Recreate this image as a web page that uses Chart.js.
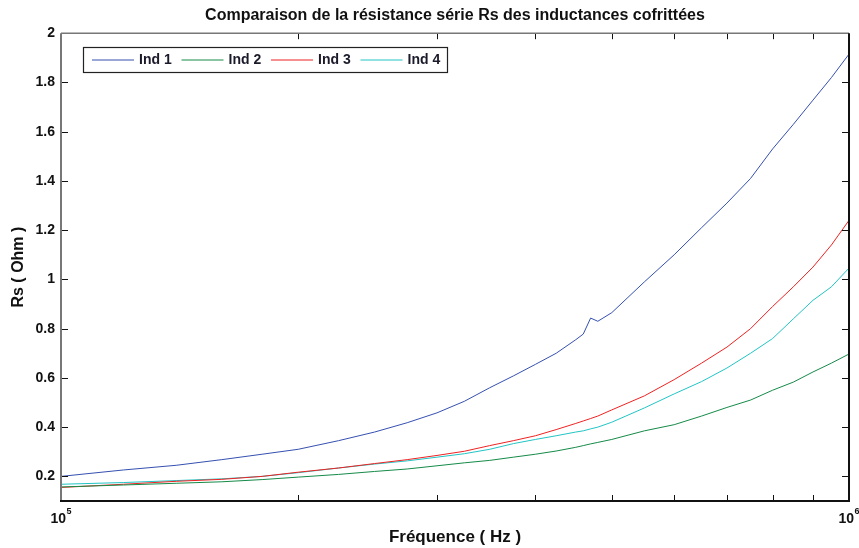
<!DOCTYPE html>
<html>
<head>
<meta charset="utf-8">
<script src="https://cdn.jsdelivr.net/npm/chart.js@4/dist/chart.umd.min.js"></script>
<style>
  body { margin: 0; background: #fff; }
  canvas { display: block; }
</style>
</head>
<body>
<canvas id="rsCanvas" width="859" height="548"></canvas>
<script>
// frequency points (Hz) and series resistance Rs (Ohm)
const freq = [100e3, 120e3, 140e3, 160e3, 180e3, 200e3, 225e3, 250e3, 275e3, 300e3,
  325e3, 350e3, 375e3, 400e3, 425e3, 450e3, 460e3, 470e3, 480e3, 500e3,
  550e3, 600e3, 650e3, 700e3, 750e3, 800e3, 850e3, 900e3, 950e3, 1000e3];
const ind1 = [0.200, 0.226, 0.245, 0.268, 0.290, 0.310, 0.345, 0.380, 0.418, 0.458,
  0.505, 0.560, 0.608, 0.655, 0.700, 0.755, 0.778, 0.843, 0.830, 0.865,
  0.990, 1.100, 1.210, 1.310, 1.410, 1.530, 1.630, 1.728, 1.820, 1.915];
const ind2 = [0.157, 0.165, 0.172, 0.178, 0.187, 0.197, 0.208, 0.220, 0.230, 0.243,
  0.255, 0.265, 0.278, 0.290, 0.303, 0.318, 0.325, 0.332, 0.338, 0.350,
  0.385, 0.410, 0.445, 0.480, 0.510, 0.550, 0.583, 0.624, 0.660, 0.697];
const ind3 = [0.155, 0.168, 0.180, 0.188, 0.200, 0.217, 0.234, 0.252, 0.268, 0.285,
  0.302, 0.325, 0.345, 0.365, 0.390, 0.415, 0.425, 0.435, 0.445, 0.470,
  0.527, 0.593, 0.660, 0.725, 0.800, 0.890, 0.970, 1.050, 1.140, 1.240];
const ind4 = [0.168, 0.175, 0.183, 0.190, 0.200, 0.215, 0.234, 0.250, 0.263, 0.278,
  0.292, 0.310, 0.333, 0.350, 0.365, 0.380, 0.385, 0.393, 0.400, 0.420,
  0.478, 0.535, 0.585, 0.640, 0.700, 0.760, 0.840, 0.915, 0.970, 1.046];
const seriesNames = ['Ind 1', 'Ind 2', 'Ind 3', 'Ind 4'];
const seriesColors = ['#3550b0', '#158a48', '#ee2222', '#22c4c4'];
const yTicks = [0.2, 0.4, 0.6, 0.8, 1, 1.2, 1.4, 1.6, 1.8, 2];
const xMinorTicks = [2e5, 3e5, 4e5, 5e5, 6e5, 7e5, 8e5, 9e5];
const xDecades = [1e5, 1e6];

const FONT = "'Liberation Sans', Arial, sans-serif";

function toPoints(vals) {
  return freq.map((f, i) => ({ x: f, y: vals[i] }));
}

// MATLAB-like frame: box, inward ticks, 10^n labels, boxed legend
const matlabFrame = {
  id: 'matlabFrame',
  afterDraw: (chart) => {
    const ctx = chart.ctx;
    const a = chart.chartArea;
    const xs = chart.scales.x;
    const ys = chart.scales.y;
    ctx.save();

    // inward tick marks
    ctx.strokeStyle = '#111';
    ctx.lineWidth = 1;
    ctx.beginPath();
    xMinorTicks.forEach((v) => {
      const px = Math.round(xs.getPixelForValue(v)) + 0.5;
      ctx.moveTo(px, a.bottom); ctx.lineTo(px, a.bottom - 6);
      ctx.moveTo(px, a.top); ctx.lineTo(px, a.top + 6);
    });
    yTicks.forEach((v) => {
      if (v >= 2) return;
      const py = Math.round(ys.getPixelForValue(v)) + 0.5;
      ctx.moveTo(a.left, py); ctx.lineTo(a.left + 7, py);
      ctx.moveTo(a.right, py); ctx.lineTo(a.right - 7, py);
    });
    ctx.stroke();

    // axes box
    ctx.lineWidth = 1.5;
    ctx.strokeStyle = '#777';
    ctx.beginPath(); ctx.moveTo(a.left, a.top); ctx.lineTo(a.right, a.top); ctx.stroke();
    ctx.lineWidth = 2;
    ctx.beginPath(); ctx.moveTo(a.left, a.top); ctx.lineTo(a.left, a.bottom); ctx.stroke();
    ctx.strokeStyle = '#111';
    ctx.beginPath(); ctx.moveTo(a.right, a.top); ctx.lineTo(a.right, a.bottom); ctx.stroke();
    ctx.beginPath(); ctx.moveTo(a.left - 1, a.bottom); ctx.lineTo(a.right + 1, a.bottom); ctx.stroke();

    // decade labels 10^5, 10^6
    ctx.fillStyle = '#111';
    ctx.textBaseline = 'alphabetic';
    xDecades.forEach((v) => {
      const px = xs.getPixelForValue(v);
      const exp = String(Math.round(Math.log10(v)));
      ctx.font = 'bold 14px ' + FONT;
      ctx.textAlign = 'right';
      ctx.fillText('10', px + 5, 523);
      ctx.font = 'bold 9px ' + FONT;
      ctx.textAlign = 'left';
      ctx.fillText(exp, px + 5.5, 514);
    });

    // legend
    const lx = 83, ly = 47, lw = 364, lh = 25;
    ctx.fillStyle = '#fff';
    ctx.fillRect(lx, ly, lw, lh);
    ctx.strokeStyle = '#222';
    ctx.lineWidth = 1.2;
    ctx.strokeRect(lx + 0.5, ly + 0.5, lw, lh);
    ctx.font = 'bold 14px ' + FONT;
    ctx.textAlign = 'left';
    ctx.textBaseline = 'middle';
    chart.data.datasets.forEach((ds, i) => {
      const x0 = 92 + i * 89.5;
      const yMid = ly + lh / 2 + 0.5;
      ctx.strokeStyle = ds.borderColor;
      ctx.lineWidth = 1;
      ctx.beginPath(); ctx.moveTo(x0, yMid); ctx.lineTo(x0 + 42, yMid); ctx.stroke();
      ctx.fillStyle = '#1a1a2a';
      ctx.fillText(ds.label, x0 + 47, yMid);
    });
    ctx.restore();
  }
};

const ctx = document.getElementById('rsCanvas').getContext('2d');
const allSeries = [ind1, ind2, ind3, ind4];

const chart = new Chart(ctx, {
  type: 'line',
  data: {
    datasets: allSeries.map((vals, i) => ({
      label: seriesNames[i],
      data: toPoints(vals),
      borderColor: seriesColors[i],
      borderWidth: 1,
      pointRadius: 0,
      tension: 0,
      fill: false
    }))
  },
  options: {
    responsive: false,
    animation: false,
    layout: { padding: { left: 0, right: 10, top: 0, bottom: 0 } },
    scales: {
      x: {
        type: 'logarithmic',
        min: 1e5,
        max: 1e6,
        grid: { display: false, drawTicks: false },
        border: { display: false },
        ticks: { display: false },
        title: {
          display: true,
          text: 'Fréquence ( Hz )',
          color: '#111',
          font: { family: FONT, size: 17, weight: 'bold' },
          padding: { top: 0, bottom: 0 }
        },
        afterFit: (scale) => { scale.height = 47; }
      },
      y: {
        min: 0.1,
        max: 2,
        grid: { display: false, drawTicks: false, tickLength: 0 },
        border: { display: false },
        afterBuildTicks: (axis) => { axis.ticks = yTicks.map((v) => ({ value: v })); },
        ticks: {
          color: '#111',
          padding: 6,
          font: { family: FONT, size: 14, weight: 'bold' },
          callback: (v) => String(Math.round(v * 10) / 10)
        },
        title: {
          display: true,
          text: 'Rs ( Ohm )',
          color: '#111',
          font: { family: FONT, size: 16, weight: 'bold' },
          padding: { top: 9, bottom: 0 }
        },
        afterFit: (scale) => { scale.width = 61; }
      }
    },
    plugins: {
      legend: { display: false },
      tooltip: { enabled: false },
      title: {
        display: true,
        fullSize: false,
        text: 'Comparaison de la résistance série Rs des inductances cofrittées',
        color: '#111',
        font: { family: FONT, size: 16, weight: 'bold' },
        padding: { top: 6, bottom: 8 }
      }
    }
  },
  plugins: [matlabFrame]
});
</script>
</body>
</html>
